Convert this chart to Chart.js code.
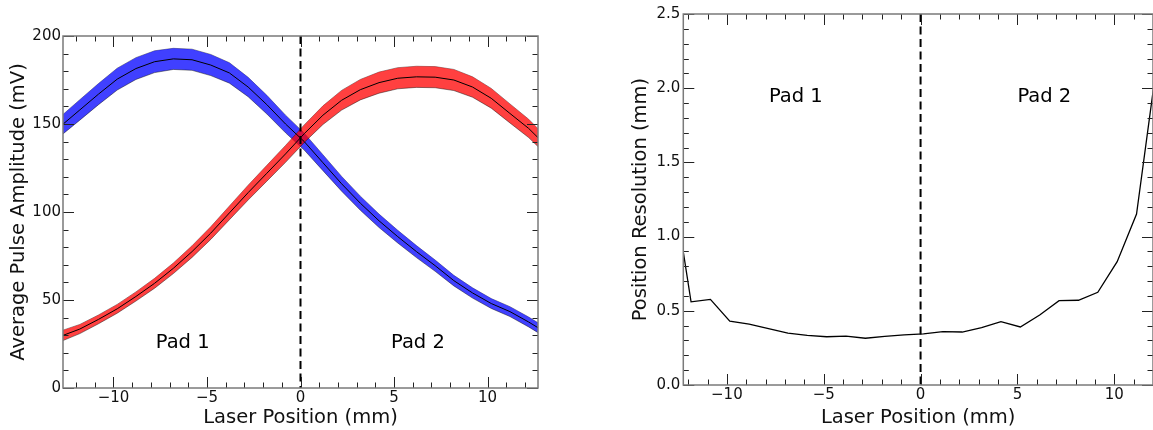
<!DOCTYPE html>
<html>
<head>
<meta charset="utf-8">
<script src="https://cdn.jsdelivr.net/npm/chart.js@4.4.1/dist/chart.umd.min.js"></script>
<style>
  html, body { margin: 0; padding: 0; background: #fff; }
  #wrap { position: relative; width: 1153px; height: 430px; overflow: hidden; }
  #amp { position: absolute; left: 0; top: 0; width: 560px; height: 430px; }
  #res { position: absolute; left: 620px; top: 0; width: 533px; height: 430px; }
</style>
</head>
<body>
<div id="wrap">
  <canvas id="amp" width="560" height="430"></canvas>
  <canvas id="res" width="533" height="430"></canvas>
</div>
<script>
// laser scan positions (mm) for the amplitude plot
const ampX = [-12.8, -11.8, -10.8, -9.8, -8.8, -7.8, -6.8, -5.8, -4.8, -3.8, -2.8, -1.8, -0.8,
  0.2, 1.2, 2.2, 3.2, 4.2, 5.2, 6.2, 7.2, 8.2, 9.2, 10.2, 11.2, 12.2, 13.2];
// pad 1 (blue) mean amplitude and spread, mV
const pad1Mean = [149, 158, 167, 175.5, 181.5, 185.4, 187, 186.5, 183.5, 179, 171, 161, 150,
  140, 128, 116, 105, 95, 86, 77.5, 69.5, 61, 54, 48, 43.4, 37.5, 31];
const pad1Err = [5.5, 5.8, 6, 6.2, 6.2, 6.2, 6, 6, 6, 5.8, 5.5, 5.3, 5,
  4.8, 4.5, 4.2, 4, 3.8, 3.6, 3.4, 3.2, 3, 2.9, 2.8, 2.8, 2.8, 2.8];
// pad 2 (red) mean amplitude and spread, mV
const pad2Mean = [29.5, 33.5, 39, 45, 52, 59.5, 68, 77.5, 88, 99.5, 111, 122, 133,
  144.5, 155, 163.5, 169.5, 173.5, 176, 176.8, 176.6, 175, 171, 164.6, 156, 147.5, 137];
const pad2Err = [3, 2.6, 2.5, 2.5, 2.6, 2.8, 3, 3.3, 3.6, 3.9, 4.2, 4.5, 4.8,
  5, 5.3, 5.6, 5.8, 6, 6, 6, 6, 6, 5.8, 5.6, 5.4, 5.2, 5];

// position resolution vs laser position
const resX = [-12.85, -11.85, -10.85, -9.85, -8.85, -7.85, -6.85, -5.85, -4.85, -3.85, -2.85, -1.85, -0.85,
  0.15, 1.15, 2.15, 3.15, 4.15, 5.15, 6.15, 7.15, 8.15, 9.15, 10.15, 11.15, 12.15];
const resVals = [1.40, 0.56, 0.577, 0.43, 0.41, 0.38, 0.35, 0.335, 0.325, 0.33, 0.315, 0.327, 0.338,
  0.345, 0.359, 0.357, 0.386, 0.427, 0.391, 0.472, 0.568, 0.571, 0.625, 0.831, 1.152, 2.12];

const FONT = 'DejaVu Sans';
const edge = 'rgba(0,0,0,0.55)';

const pts = (xs, ys) => ys.map((v, i) => ({ x: xs[i], y: v }));
const band = (mean, err, sign) => mean.map((m, i) => ({ x: ampX[i], y: m + sign * err[i] }));
const fmtX = (v) => (v < 0 ? '\u2212' + Math.abs(v) : String(v));

// matplotlib-like frame: grey spines, inward ticks on every side, dashed x=0 line, pad labels
const framePlugin = {
  id: 'frame',
  afterDatasetsDraw(chart, _args, opts) {
    const { ctx, chartArea, scales } = chart;
    const { left, right, top, bottom } = chartArea;
    const x = scales.x;
    const y = scales.y;
    ctx.save();

    const x0 = x.getPixelForValue(0);
    ctx.strokeStyle = '#000';
    ctx.lineWidth = 2;
    ctx.setLineDash([8, 4.5]);
    ctx.beginPath();
    ctx.moveTo(x0, top);
    ctx.lineTo(x0, bottom);
    ctx.stroke();
    ctx.setLineDash([]);

    ctx.font = '19.5px "' + FONT + '"';
    ctx.fillStyle = '#000';
    ctx.textAlign = 'center';
    ctx.textBaseline = 'middle';
    for (const m of opts.labels) {
      ctx.fillText(m.text, x.getPixelForValue(m.x), y.getPixelForValue(m.y));
    }

    ctx.strokeStyle = '#222';
    ctx.lineWidth = 1;
    const marks = (scale, minor, major, cb) => {
      const start = Math.ceil(scale.min / minor - 1e-9);
      for (let k = start; k * minor <= scale.max + 1e-9; k++) {
        const v = k * minor;
        const isMajor = Math.abs(v / major - Math.round(v / major)) < 1e-6;
        cb(Math.round(scale.getPixelForValue(v)) + 0.5, isMajor ? 11 : 5.5);
      }
    };
    ctx.beginPath();
    marks(x, opts.xMinor, opts.xMajor, (p, len) => {
      ctx.moveTo(p, bottom); ctx.lineTo(p, bottom - len);
      ctx.moveTo(p, top); ctx.lineTo(p, top + len);
    });
    marks(y, opts.yMinor, opts.yMajor, (p, len) => {
      ctx.moveTo(left, p); ctx.lineTo(left + len, p);
      ctx.moveTo(right, p); ctx.lineTo(right - len, p);
    });
    ctx.stroke();

    ctx.strokeStyle = '#7a7a7a';
    ctx.lineWidth = 1.5;
    ctx.strokeRect(left, top, right - left, bottom - top);
    ctx.restore();
  },
};

function axisX(min, max, height, titlePad) {
  return {
    type: 'linear', min, max,
    grid: { display: false, drawTicks: false },
    border: { display: false },
    ticks: {
      stepSize: 5, includeBounds: false, padding: 1, maxRotation: 0,
      color: '#111', font: { family: FONT, size: 15 }, callback: fmtX,
    },
    title: {
      display: true, text: 'Laser Position (mm)', color: '#111',
      font: { family: FONT, size: 19.5 }, padding: { top: titlePad, bottom: 0 },
    },
    afterFit(s) { s.height = height; },
  };
}

function axisY(min, max, step, width, text, titlePad, tickPad, fmt) {
  return {
    type: 'linear', min, max,
    grid: { display: false, drawTicks: false },
    border: { display: false },
    ticks: {
      stepSize: step, padding: tickPad, color: '#111',
      font: { family: FONT, size: 15 }, callback: fmt,
    },
    title: {
      display: true, text, color: '#111',
      font: { family: FONT, size: 19.5 }, padding: { top: titlePad, bottom: 0 },
    },
    afterFit(s) { s.width = width; },
  };
}

const common = {
  responsive: false,
  animation: false,
  events: [],
  elements: { point: { radius: 0 }, line: { tension: 0 } },
};

new Chart(document.getElementById('amp'), {
  type: 'line',
  data: {
    datasets: [
      { data: band(pad1Mean, pad1Err, 1), borderColor: edge, borderWidth: 0.8, backgroundColor: 'transparent', fill: false, order: 6 },
      { data: band(pad1Mean, pad1Err, -1), borderColor: edge, borderWidth: 0.8, backgroundColor: 'rgba(0,0,255,0.75)', fill: '-1', order: 5 },
      { data: band(pad2Mean, pad2Err, 1), borderColor: edge, borderWidth: 0.8, backgroundColor: 'transparent', fill: false, order: 4 },
      { data: band(pad2Mean, pad2Err, -1), borderColor: edge, borderWidth: 0.8, backgroundColor: 'rgba(255,0,0,0.75)', fill: '-1', order: 3 },
      { data: pts(ampX, pad1Mean), borderColor: '#000', borderWidth: 1, backgroundColor: 'transparent', fill: false, order: 2 },
      { data: pts(ampX, pad2Mean), borderColor: '#000', borderWidth: 1, backgroundColor: 'transparent', fill: false, order: 1 },
    ],
  },
  plugins: [framePlugin],
  options: {
    ...common,
    layout: { padding: { top: 36, right: 22, left: 0, bottom: 0 } },
    plugins: {
      legend: { display: false },
      tooltip: { enabled: false },
      frame: {
        xMinor: 1, xMajor: 5, yMinor: 10, yMajor: 50,
        labels: [{ text: 'Pad 1', x: -6.3, y: 25.6 }, { text: 'Pad 2', x: 6.28, y: 25.6 }],
      },
    },
    scales: {
      x: axisX(-12.7, 12.7, 42, 3),
      y: axisY(0, 200, 50, 63, 'Average Pulse Amplitude (mV)', 7, 2, (v) => String(v)),
    },
  },
});

new Chart(document.getElementById('res'), {
  type: 'line',
  data: {
    datasets: [
      { data: pts(resX, resVals), borderColor: '#000', borderWidth: 1.3, backgroundColor: 'transparent', fill: false },
    ],
  },
  plugins: [framePlugin],
  options: {
    ...common,
    layout: { padding: { top: 14, right: 0, left: 0, bottom: 0 } },
    plugins: {
      legend: { display: false },
      tooltip: { enabled: false },
      frame: {
        xMinor: 1, xMajor: 5, yMinor: 0.1, yMajor: 0.5,
        labels: [{ text: 'Pad 1', x: -6.44, y: 1.94 }, { text: 'Pad 2', x: 6.39, y: 1.94 }],
      },
    },
    scales: {
      x: axisX(-12.25, 12, 45, 3),
      y: axisY(0, 2.5, 0.5, 63.3, 'Position Resolution (mm)', 9, 3, (v) => v.toFixed(1)),
    },
  },
});
</script>
</body>
</html>
